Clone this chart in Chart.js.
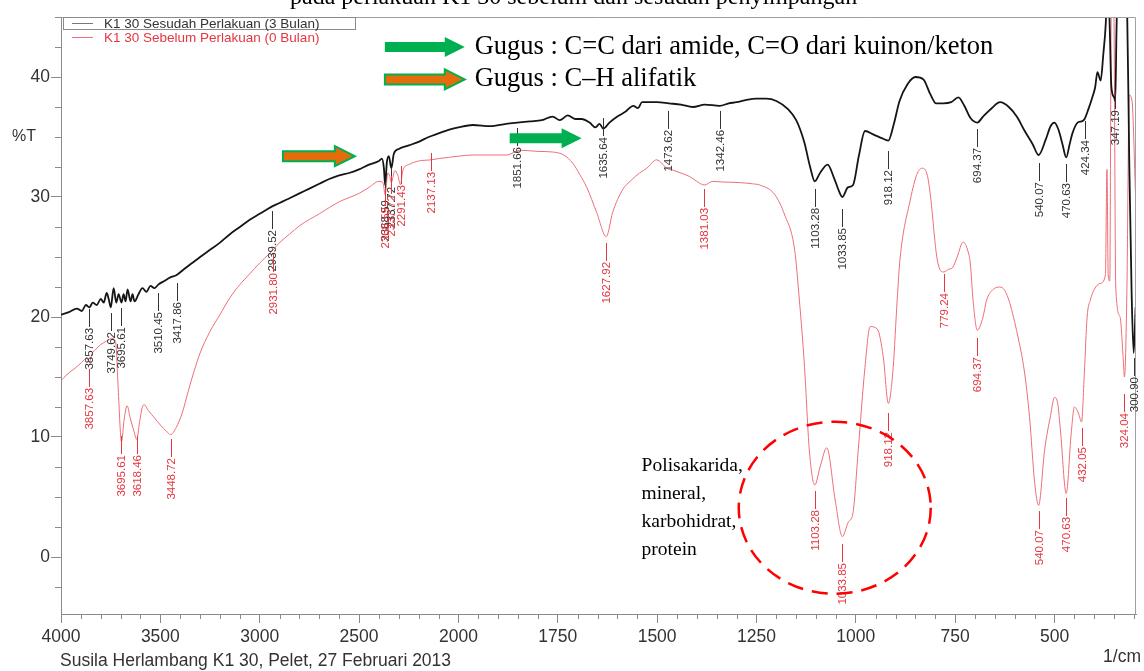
<!DOCTYPE html>
<html>
<head>
<meta charset="utf-8">
<script src="https://cdn.jsdelivr.net/npm/chart.js@4.4.1/dist/chart.umd.min.js"></script>
<style>
  body { margin: 0; background: #fff; }
  canvas { display: block; }
</style>
</head>
<body>
<canvas id="ftirChart" width="1144" height="671"></canvas>
<script>
// 数据：波数 (1/cm) 与 %T
const blackWn = [
  4000, 3960, 3920, 3895, 3875, 3857.63, 3840, 3820, 3800, 3785,
  3770, 3760, 3749.62, 3735, 3722, 3710, 3695.61, 3685, 3675, 3665,
  3650, 3640, 3630, 3610, 3590, 3570, 3550, 3530, 3510.45, 3480,
  3450, 3417.86, 3380, 3340, 3300, 3250, 3200, 3150, 3100, 3050,
  3000, 2960, 2939.52, 2900, 2850, 2800, 2750, 2700, 2650, 2600,
  2550, 2500, 2450, 2400, 2385, 2375, 2368.59, 2360, 2350, 2337.72,
  2325, 2300, 2250, 2200, 2150, 2100, 2050, 2000, 1964, 1920,
  1880, 1851.66, 1820, 1790, 1763, 1745, 1725, 1705, 1690, 1670,
  1655, 1645, 1635.64, 1620, 1600, 1580, 1560, 1548, 1538, 1500,
  1470, 1440, 1410, 1380, 1342.46, 1320, 1300, 1275, 1250, 1225,
  1200, 1170, 1150, 1130, 1115, 1103.28, 1090, 1071, 1055, 1040,
  1033.85, 1020, 1007, 992, 977, 955, 935, 918.12, 905, 890,
  870, 850, 830, 813, 798, 780, 760, 742, 727, 712,
  694.37, 680, 658, 637, 615, 595, 575, 555, 540.07, 522,
  510, 500, 490, 480, 470.63, 462, 455, 442, 432, 424.34,
  415, 405, 398, 392, 384, 377, 371, 366, 361, 357,
  350, 347.19, 344, 340, 325, 318, 312, 306, 300.9, 296
];
const blackT = [
  20.2, 20.4, 20.7, 20.5, 21.0, 20.8, 21.2, 21.0, 21.5, 21.2,
  22.0, 21.5, 20.8, 22.4, 21.2, 21.9, 21.2, 21.9, 21.3, 22.3,
  21.3, 21.9, 21.3, 21.9, 22.4, 22.1, 22.6, 22.4, 22.7, 23.0,
  23.3, 23.5, 24.0, 24.5, 25.0, 25.6, 26.2, 26.9, 27.5, 28.1,
  28.6, 29.0, 29.2, 29.5, 29.9, 30.3, 30.7, 31.1, 31.5, 31.8,
  32.0, 32.3, 32.7, 33.0, 33.2, 32.4, 31.0, 32.9, 33.4, 32.4,
  33.6, 34.0, 34.3, 34.6, 35.0, 35.3, 35.6, 35.8, 36.0, 35.9,
  36.1, 36.2, 36.3, 36.4, 36.7, 36.4, 36.8, 36.5, 36.5, 36.2,
  35.8, 36.1, 35.7, 36.2, 36.7, 37.1, 37.6, 37.4, 37.9, 37.9,
  37.8, 37.7, 37.5, 37.7, 37.6, 37.8, 37.9, 38.1, 38.2, 38.2,
  38.0, 37.3, 36.4, 34.6, 32.5, 31.3, 32.0, 32.7, 31.6, 30.3,
  30.0, 30.8, 31.0, 33.5, 35.5, 35.2, 34.9, 34.7, 36.0, 38.0,
  39.4, 40.0, 39.8, 38.6, 37.8, 37.8, 37.9, 38.3, 37.6, 36.6,
  36.2, 36.7, 37.4, 37.9, 37.5, 36.7, 35.5, 34.4, 33.5, 34.8,
  35.9, 36.2, 35.6, 34.4, 33.3, 34.4, 35.3, 36.2, 36.3, 36.5,
  37.3, 38.3, 39.1, 40.4, 39.7, 42.0, 44.5, 49, 44, 39.2,
  38.3, 38.0, 44, 49, 49, 47, 33, 22, 17, 20.8
];

const redWn = [
  4000, 3970, 3940, 3910, 3885, 3870, 3857.63, 3845, 3825, 3800,
  3770, 3745, 3725, 3712, 3695.61, 3682, 3667, 3652, 3635, 3618.46,
  3605, 3592, 3582, 3560, 3530, 3500, 3470, 3448.72, 3420, 3390,
  3360, 3330, 3300, 3250, 3200, 3150, 3100, 3050, 3000, 2950,
  2931.8, 2900, 2850, 2800, 2700, 2600, 2500, 2450, 2400, 2380,
  2368.59, 2355, 2345, 2337.72, 2320, 2305, 2291.43, 2280, 2250, 2200,
  2137.13, 2100, 2050, 2000, 1964, 1878, 1846, 1800, 1763, 1735,
  1712, 1695, 1677, 1652, 1627.92, 1612, 1587, 1565, 1544, 1526,
  1501, 1488, 1476, 1461, 1440, 1418, 1400, 1381.03, 1360, 1335,
  1292, 1260, 1242, 1204, 1179, 1154, 1142, 1129, 1117, 1103.28,
  1090, 1073, 1052, 1033.85, 1019, 1007, 994, 977, 964, 946,
  931, 918.12, 906, 896, 889, 863, 845, 833, 820, 813,
  795, 779.24, 765, 757, 745, 730, 718, 712, 705, 694.37,
  680, 671, 656, 638, 625, 613, 593, 576, 563, 550,
  540.07, 525, 510, 500, 492, 485, 470.63, 458, 450, 440,
  432.05, 425, 418, 410, 400, 385, 372, 368, 365, 361,
  357, 351, 346, 335, 328, 324.04, 318, 312, 305, 296
];
const redT = [
  14.7, 15.2, 15.6, 16.0, 16.4, 16.6, 16.2, 16.9, 17.3, 17.7,
  18.0, 18.2, 17.9, 14.0, 9.6, 11.5, 12.6, 11.6, 10.6, 9.8,
  11.2, 12.4, 12.7, 12.2, 11.6, 11.0, 10.5, 10.2, 10.8, 12.0,
  13.8, 15.5, 17.0, 18.8, 20.2, 21.6, 22.7, 23.6, 24.5, 25.3,
  25.6, 26.2, 26.9, 27.6, 28.6, 29.6, 30.3, 30.8, 31.3, 31.2,
  30.2, 32.0, 31.7, 31.2, 32.2, 31.8, 31.0, 32.2, 32.7, 33.0,
  33.1, 33.2, 33.3, 33.4, 33.5, 33.5, 33.9, 33.8, 33.75, 33.5,
  32.8, 31.9, 30.8, 28.7, 26.7, 28.7, 30.6, 31.4, 32.0, 32.4,
  33.1, 32.8, 32.4, 32.25, 32.0, 31.7, 31.3, 31.0, 31.3, 31.25,
  31.2, 31.1, 31.0, 30.2, 28.5, 25.6, 21.4, 15.8, 8.9, 6.0,
  7.5, 9.1, 4.75, 1.7, 2.9, 3.7, 8.9, 15.8, 19.2, 19.0,
  16.7, 12.8, 15.8, 21.4, 24.75, 29.75, 32.0, 32.4, 31.8, 30.3,
  24.75, 23.75, 24.0, 24.1, 25.0, 26.25, 25.5, 24.5, 21.4, 18.9,
  20.0, 21.4, 22.25, 22.5, 22.2, 21.2, 18.5, 15.5, 11.7, 6.2,
  4.3, 8.9, 11.8, 13.3, 12.8, 10.5, 5.3, 10.3, 12.5, 12.0,
  11.25, 15.3, 20.0, 21.4, 22.3, 22.8, 23.5, 32.3, 23.5, 23.0,
  46, 46, 22.5, 20.0, 17.0, 15.0, 22.0, 38.5, 38.0, 30.0
];

// 峰标注（波数 + 引线顶端的 %T）
const blackPeakWn = [3857.63, 3749.62, 3695.61, 3510.45, 3417.86, 2939.52, 2368.59, 2337.72,
  1851.66, 1635.64, 1473.62, 1342.46, 1103.28, 1033.85, 918.12, 694.37, 540.07, 470.63,
  424.34, 347.19, 300.90];
const blackPeakT = [20.67, 20.33, 20.75, 22.0, 22.83, 28.83, 31.33, 32.42,
  35.75, 36.58, 37.17, 37.17, 30.67, 29.0, 33.83, 35.67, 32.83, 32.75,
  36.33, 38.83, 16.58];
const redPeakWn = [3857.63, 3695.61, 3618.46, 3448.72, 2931.80, 2368.59, 2337.72, 2291.43,
  2137.13, 1627.92, 1381.03, 1103.28, 1033.85, 918.12, 779.24, 694.37, 540.07, 470.63,
  432.05, 324.04];
const redPeakT = [15.67, 10.08, 10.08, 9.83, 25.25, 30.75, 31.75, 32.58,
  33.67, 26.17, 30.67, 5.5, 1.08, 12.0, 23.58, 18.25, 3.83, 4.92,
  10.75, 13.58];

const xMajorTicks = [4000, 3500, 3000, 2500, 2000, 1750, 1500, 1250, 1000, 750, 500];
const yMajorTicks = [0, 10, 20, 30, 40];

const BLACK = '#151515';
const RED_LINE = 'rgb(238,110,120)';
const RED_TEXT = 'rgb(228,55,65)';
const AXIS = '#8a8a8a';
const SANS = '"Liberation Sans", Arial, sans-serif';
const SERIF = '"Liberation Serif", "Times New Roman", serif';

// 2000 以下刻度放大一倍（FTIR 仪器的常见横轴）
function toU(w) { return w >= 2000 ? (4000 - w) / 5 : 400 + (2000 - w) * 0.4; }
function fromU(u) { return u <= 400 ? 4000 - u * 5 : 2000 - (u - 400) / 0.4; }

class FtirScale extends Chart.LinearScale {
  getPixelForValue(value) {
    const u0 = toU(this.max), span = toU(this.min) - u0;
    return this.left + (toU(value) - u0) / span * this.width;
  }
  getValueForPixel(pixel) {
    const u0 = toU(this.max), span = toU(this.min) - u0;
    return fromU(u0 + (pixel - this.left) / this.width * span);
  }
}
FtirScale.id = 'ftir';
FtirScale.defaults = {};
Chart.register(FtirScale);

function toPoints(ws, ts) {
  return ws.map((w, i) => ({ x: w, y: ts[i] }));
}

function drawArrow(ctx, x0, x1, yc, fill, stroke) {
  const shaft = 5, head = 10, headLen = 20;
  ctx.beginPath();
  ctx.moveTo(x0, yc - shaft);
  ctx.lineTo(x1 - headLen, yc - shaft);
  ctx.lineTo(x1 - headLen, yc - head);
  ctx.lineTo(x1, yc);
  ctx.lineTo(x1 - headLen, yc + head);
  ctx.lineTo(x1 - headLen, yc + shaft);
  ctx.lineTo(x0, yc + shaft);
  ctx.closePath();
  ctx.fillStyle = fill;
  ctx.fill();
  if (stroke) {
    ctx.strokeStyle = stroke;
    ctx.lineWidth = 2;
    ctx.stroke();
  }
}

function drawPeakLabels(ctx, xs, ys, wns, ts, color) {
  ctx.font = '11.5px ' + SANS;
  ctx.fillStyle = color;
  ctx.strokeStyle = color;
  ctx.lineWidth = 1;
  ctx.textAlign = 'right';
  ctx.textBaseline = 'middle';
  wns.forEach((w, i) => {
    const px = Math.round(xs.getPixelForValue(w)) + 0.5;
    const py = ys.getPixelForValue(ts[i]);
    ctx.beginPath();
    ctx.moveTo(px, py);
    ctx.lineTo(px, py + 18);
    ctx.stroke();
    ctx.save();
    ctx.translate(px, py + 19);
    ctx.rotate(-Math.PI / 2);
    ctx.fillText(w.toFixed(2), 0, 0);
    ctx.restore();
  });
}

const decorPlugin = {
  id: 'decor',
  afterDraw(chart) {
    const { ctx, chartArea: a } = chart;
    const xs = chart.scales.x, ys = chart.scales.y;
    ctx.save();

    // 外框（上、右）
    ctx.strokeStyle = '#a0a0a0';
    ctx.lineWidth = 1;
    ctx.beginPath();
    ctx.moveTo(a.left, a.top + 0.5);
    ctx.lineTo(a.right - 0.5, a.top + 0.5);
    ctx.lineTo(a.right - 0.5, a.bottom);
    ctx.stroke();

    // 次刻度
    ctx.strokeStyle = AXIS;
    ctx.beginPath();
    for (let w = 3900; w > 2000; w -= 100) {
      if (w % 500 === 0) continue;
      const px = Math.round(xs.getPixelForValue(w)) + 0.5;
      ctx.moveTo(px, a.bottom);
      ctx.lineTo(px, a.bottom + 5);
    }
    for (let w = 1950; w >= 300; w -= 50) {
      if (w % 250 === 0) continue;
      const px = Math.round(xs.getPixelForValue(w)) + 0.5;
      ctx.moveTo(px, a.bottom);
      ctx.lineTo(px, a.bottom + 5);
    }
    for (let t = -2.5; t <= 45; t += 2.5) {
      if (t % 10 === 0) continue;
      const py = Math.round(ys.getPixelForValue(t)) + 0.5;
      ctx.moveTo(a.left, py);
      ctx.lineTo(a.left - 6, py);
    }
    ctx.stroke();

    // 峰标注
    drawPeakLabels(ctx, xs, ys, blackPeakWn, blackPeakT, '#333');
    drawPeakLabels(ctx, xs, ys, redPeakWn, redPeakT, RED_TEXT);

    // 图例
    ctx.strokeStyle = '#8a8a8a';
    ctx.strokeRect(a.left + 2.5, a.top + 0.5, 292, 12);
    ctx.font = '13.5px ' + SANS;
    ctx.textAlign = 'left';
    ctx.textBaseline = 'middle';
    const ds = chart.data.datasets;
    [[ds[0].label, '#777', '#333', 6], [ds[1].label, RED_LINE, RED_TEXT, 20]].forEach(([txt, lc, tc, dy]) => {
      ctx.strokeStyle = lc;
      ctx.beginPath();
      ctx.moveTo(a.left + 11, a.top + dy + 0.5);
      ctx.lineTo(a.left + 32, a.top + dy + 0.5);
      ctx.stroke();
      ctx.fillStyle = tc;
      ctx.fillText(txt, a.left + 43, a.top + dy + 1);
    });

    // 纵轴标题
    ctx.fillStyle = '#333';
    ctx.font = '16px ' + SANS;
    ctx.fillText('%T', 12, ys.getPixelForValue(35));

    // 底部说明
    ctx.font = '17.5px ' + SANS;
    ctx.fillText('Susila Herlambang K1 30, Pelet, 27 Februari 2013', 60, 661);
    ctx.textAlign = 'right';
    ctx.fillText('1/cm', 1141, 657);

    // 顶部被截断的标题
    ctx.textAlign = 'left';
    ctx.textBaseline = 'alphabetic';
    ctx.fillStyle = '#000';
    ctx.font = '24px ' + SERIF;
    ctx.fillText('pada perlakuan K1 30 sebelum dan sesudah penyimpangan', 290, 4);

    // 箭头与说明文字
    const green = 'rgb(0,176,80)', orange = 'rgb(228,108,10)';
    drawArrow(ctx, xs.getPixelForValue(2370), xs.getPixelForValue(1984), ys.getPixelForValue(42.5), green);
    drawArrow(ctx, xs.getPixelForValue(2370), xs.getPixelForValue(1984), ys.getPixelForValue(39.8), orange, green);
    drawArrow(ctx, xs.getPixelForValue(2883), xs.getPixelForValue(2521), ys.getPixelForValue(33.4), orange, green);
    drawArrow(ctx, xs.getPixelForValue(1871), xs.getPixelForValue(1690), ys.getPixelForValue(34.9), green);

    ctx.fillStyle = '#000';
    ctx.font = '26.5px ' + SERIF;
    ctx.textBaseline = 'middle';
    const tx = xs.getPixelForValue(1959);
    ctx.fillText('Gugus : C=C dari amide, C=O dari kuinon/keton', tx, ys.getPixelForValue(42.5));
    ctx.fillText('Gugus : C\u2013H alifatik', tx, ys.getPixelForValue(39.8));

    // 多糖区域的虚线圈
    ctx.strokeStyle = 'rgb(255,0,0)';
    ctx.lineWidth = 2.5;
    ctx.setLineDash([16, 9]);
    ctx.beginPath();
    ctx.ellipse(xs.getPixelForValue(1053), ys.getPixelForValue(4.1), 96, 86, 0, 0, Math.PI * 2);
    ctx.stroke();
    ctx.setLineDash([]);

    ctx.font = '19.5px ' + SERIF;
    const lx = xs.getPixelForValue(1539);
    ['Polisakarida,', 'mineral,', 'karbohidrat,', 'protein'].forEach((s, i) => {
      ctx.fillText(s, lx, ys.getPixelForValue(7.6) + i * 28);
    });

    ctx.restore();
  }
};

const ctx = document.getElementById('ftirChart').getContext('2d');
const ftirChart = new Chart(ctx, {
  type: 'line',
  data: {
    datasets: [{
      label: 'K1 30 Sesudah Perlakuan (3 Bulan)',
      data: toPoints(blackWn, blackT),
      borderColor: BLACK,
      borderWidth: 1.8,
      pointRadius: 0,
      cubicInterpolationMode: 'monotone'
    }, {
      label: 'K1 30 Sebelum Perlakuan (0 Bulan)',
      data: toPoints(redWn, redT),
      borderColor: RED_LINE,
      borderWidth: 1,
      pointRadius: 0,
      cubicInterpolationMode: 'monotone'
    }]
  },
  options: {
    responsive: false,
    animation: false,
    devicePixelRatio: 1,
    parsing: false,
    layout: { padding: { top: 17, right: 8, left: 0, bottom: 0 } },
    plugins: {
      legend: { display: false },
      tooltip: { enabled: false }
    },
    scales: {
      x: {
        type: 'ftir',
        min: 295,
        max: 4000,
        bounds: 'data',
        afterFit: s => { s.height = 57; },
        afterBuildTicks: s => { s.ticks = xMajorTicks.map(v => ({ value: v })); },
        grid: { drawOnChartArea: false, tickLength: 9, color: AXIS },
        border: { color: AXIS },
        ticks: {
          autoSkip: false,
          maxRotation: 0,
          padding: 4,
          color: '#333',
          font: { family: SANS, size: 17.5 },
          callback: v => String(v)
        }
      },
      y: {
        type: 'linear',
        min: -4.75,
        max: 45,
        afterFit: s => { s.width = 61; },
        afterBuildTicks: s => { s.ticks = yMajorTicks.map(v => ({ value: v })); },
        grid: { drawOnChartArea: false, tickLength: 10, color: AXIS },
        border: { color: AXIS },
        ticks: {
          padding: 1,
          color: '#333',
          font: { family: SANS, size: 17.5 },
          callback: v => String(v)
        }
      }
    }
  },
  plugins: [decorPlugin]
});
</script>
</body>
</html>
